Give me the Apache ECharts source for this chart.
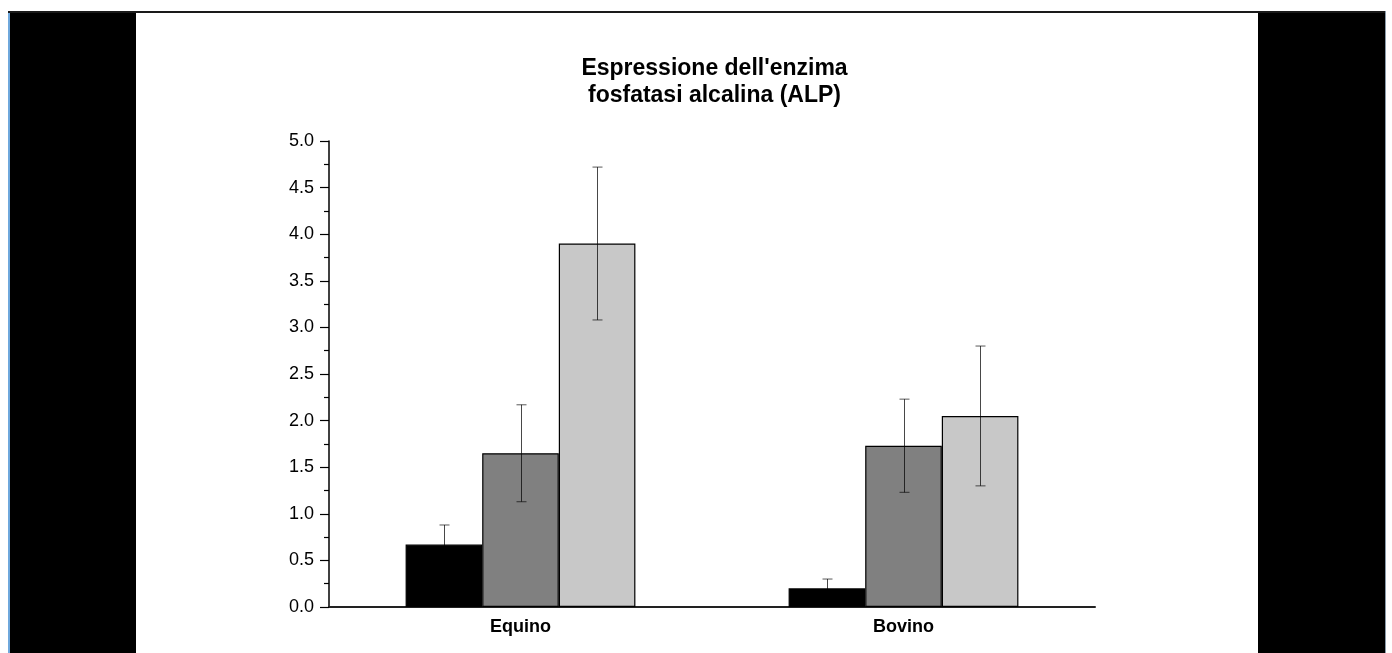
<!DOCTYPE html>
<html>
<head>
<meta charset="utf-8">
<script src="https://cdn.jsdelivr.net/npm/echarts@6/dist/echarts.min.js"></script>
<style>
html,body{margin:0;padding:0;background:#fff;width:1392px;height:653px;overflow:hidden;}
#frame{position:absolute;left:8px;top:11px;width:1375px;height:642px;background:#000;border-left:2px solid #6fa8dc;border-right:1px solid #8a9aa8;}
#topline{position:absolute;left:8px;top:11px;width:1377px;height:2px;background:#1a1a1a;}
#chart{position:absolute;left:136px;top:13px;width:1122px;height:640px;background:#fff;}
</style>
</head>
<body>
<div id="frame"></div>
<div id="topline"></div>
<div id="chart"></div>
<script>
const categories = ['Equino', 'Bovino'];
const seriesNames = ['A', 'B', 'C'];
const seriesColors = ['#000000', '#808080', '#c8c8c8'];
const meanA = [0.67, 0.20];
const meanB = [1.65, 1.73];
const meanC = [3.90, 2.05];
const errA = [0.21, 0.10];
const errB = [0.52, 0.50];
const errC = [0.82, 0.75];
const titleLines = ["Espressione dell'enzima", "fosfatasi alcalina (ALP)"];

const means = [meanA, meanB, meanC];
const errs = [errA, errB, errC];
const gapRatio = 0.40;
const FONT = '"Liberation Sans", Arial, sans-serif';

const chart = echarts.init(document.getElementById('chart'));

const barSeries = means.map((m, i) => ({
  type: 'bar',
  name: seriesNames[i],
  data: m,
  barGap: '0%',
  barCategoryGap: (gapRatio * 100) + '%',
  itemStyle: { color: seriesColors[i], borderColor: '#000', borderWidth: 1.2 },
  z: 2
}));

const errData = [];
means.forEach((m, s) => {
  m.forEach((v, c) => {
    errData.push([c, v - errs[s][c], v + errs[s][c], s]);
  });
});

const errSeries = {
  type: 'custom',
  data: errData,
  z: 5,
  renderItem: function (params, api) {
    const c = api.value(0);
    const lo = api.value(1);
    const hi = api.value(2);
    const s = api.value(3);
    const band = api.size([1, 0])[0];
    const bw = band * (1 - gapRatio) / 3;
    const center = Math.round(api.coord([c, 0])[0] + (s - 1) * bw) + 0.5;
    const yLo = api.coord([c, lo])[1];
    const yHi = api.coord([c, hi])[1];
    const half = 5;
    return {
      type: 'group',
      children: [
        { type: 'line', shape: { x1: center, y1: yLo, x2: center, y2: yHi }, style: { stroke: 'rgba(0,0,0,0.72)', lineWidth: 1 } },
        { type: 'line', shape: { x1: center - half, y1: yHi, x2: center + half, y2: yHi }, style: { stroke: 'rgba(0,0,0,0.55)', lineWidth: 1.2 } },
        { type: 'line', shape: { x1: center - half, y1: yLo, x2: center + half, y2: yLo }, style: { stroke: 'rgba(0,0,0,0.55)', lineWidth: 1.2 } }
      ]
    };
  }
};

chart.setOption({
  animation: false,
  backgroundColor: '#fff',
  graphic: [
    { type: 'text', x: 578.5, y: 55.5, style: { text: titleLines[0], font: 'bold 23px ' + FONT, fill: '#000', align: 'center', verticalAlign: 'middle' } },
    { type: 'text', x: 578.5, y: 82.5, style: { text: titleLines[1], font: 'bold 23px ' + FONT, fill: '#000', align: 'center', verticalAlign: 'middle' } }
  ],
  grid: { left: 193, right: 163, top: 128, bottom: 46, containLabel: false },
  xAxis: {
    type: 'category',
    data: categories,
    axisLine: { show: true, lineStyle: { color: '#222', width: 2 } },
    axisTick: { show: false },
    axisLabel: { color: '#000', fontSize: 18, fontWeight: 'bold', fontFamily: FONT, margin: 11 },
    splitLine: { show: false }
  },
  yAxis: {
    type: 'value',
    min: 0, max: 5, interval: 0.5,
    axisLine: { show: true, lineStyle: { color: '#000', width: 1.5 } },
    axisTick: { show: true, length: 9, lineStyle: { color: '#000', width: 1.2 } },
    minorTick: { show: true, splitNumber: 2, length: 5, lineStyle: { color: '#000', width: 1.2 } },
    axisLabel: { color: '#000', fontSize: 18, fontFamily: FONT, margin: 15, formatter: v => v.toFixed(1) },
    splitLine: { show: false }
  },
  series: barSeries.concat([errSeries])
});
</script>
</body>
</html>
